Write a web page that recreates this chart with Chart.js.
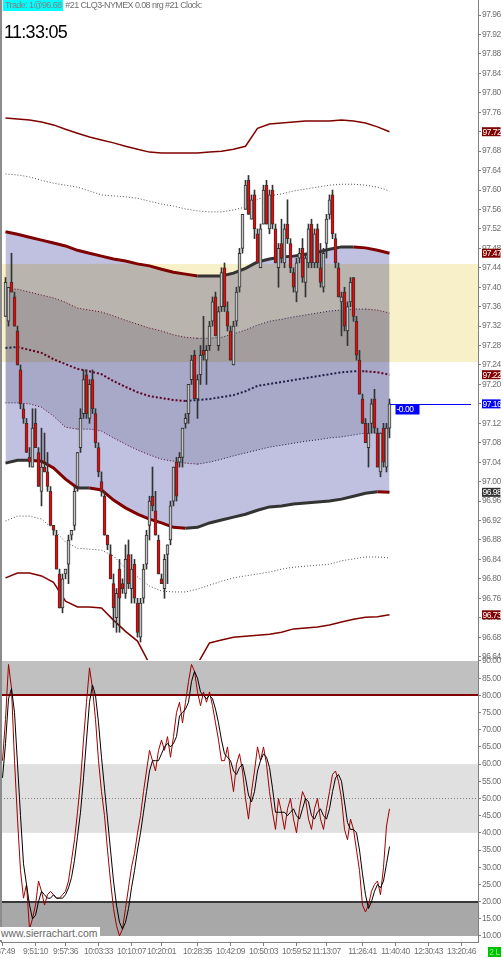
<!DOCTYPE html>
<html>
<head>
<meta charset="utf-8">
<title>CLQ3-NYMEX</title>
<script src="https://cdn.jsdelivr.net/npm/chart.js@4.4.1/dist/chart.umd.min.js"></script>
<style>
  html, body { margin: 0; padding: 0; background: #fff; }
  body { position: relative; width: 503px; height: 958px; overflow: hidden; }
  canvas { position: absolute; left: 0; }
  #price { top: 0; }
  #osc { top: 650px; }
  #edge { position: absolute; left: 0; top: 0; width: 2px; height: 942px; background: #8c8c8c; }
  #hdr { position: absolute; left: 3px; top: 0; height: 11px; white-space: nowrap; letter-spacing: -0.6px;
         font: 9px/11px 'Liberation Sans', Arial, sans-serif; color: #707070; }
  #hdr .trade { display: inline-block; background: #00ffff; padding: 0 2px 0 2px; color: #808080; }
  #clock { position: absolute; left: 4px; top: 23px; color: #000; letter-spacing: -0.7px;
           font: 18px/18px 'Liberation Sans', Arial, sans-serif; }
  #wm { position: absolute; left: 0; top: 927px; width: 100px; height: 13px; background: #fff; padding-left: 1px;
        box-sizing: border-box; font: 10.4px/13px 'Liberation Sans', Arial, sans-serif; color: #666; }
  #badge { position: absolute; left: 488px; top: 947px; width: 13px; height: 10px; background: #00c000;
           color: #80ff80; text-align: center; letter-spacing: -0.5px; font: 8.5px/10px 'Liberation Sans', sans-serif; }
</style>
</head>
<body>
<canvas id="price" width="503" height="660"></canvas>
<canvas id="osc" width="503" height="308"></canvas>
<div id="edge"></div>
<div id="hdr"><span class="trade">Trade: 1@96.68</span> #21 CLQ3-NYMEX 0.08 nrg #21 Clock:</div>
<div id="clock">11:33:05</div>
<div id="wm">www.sierrachart.com</div>
<div id="badge">2 L</div>
<script>
// bar slots on the x axis (bars sit in slots 1..129, the rest is empty space on the right)
const N_SLOTS = 159;
const FIRST_BAR = 1;

// candles, 21-tick bars
const OPEN = [97.34,97.33,97.41,97.38,97.31,97.23,97.15,97.12,97.05,97.03,97.12,97.06,96.98,97.03,97.02,96.98,96.91,96.89,96.81,96.74,
  96.81,96.83,96.89,96.91,96.99,97.07,97.14,97.22,97.13,97.21,97.14,97.07,97.00,96.97,96.89,96.85,96.79,96.72,96.82,96.79,
  96.77,96.85,96.78,96.83,96.75,96.68,96.76,96.83,96.91,96.97,96.94,96.88,96.80,96.78,96.85,96.88,96.96,97.04,97.04,97.05,
  97.12,97.14,97.21,97.26,97.17,97.22,97.27,97.25,97.28,97.33,97.38,97.28,97.36,97.44,97.35,97.31,97.24,97.33,97.40,97.48,
  97.56,97.62,97.54,97.59,97.51,97.44,97.53,97.61,97.52,97.60,97.52,97.44,97.49,97.45,97.53,97.49,97.43,97.39,97.46,97.48,
  97.41,97.45,97.53,97.45,97.52,97.44,97.40,97.49,97.55,97.59,97.50,97.44,97.37,97.39,97.31,97.37,97.42,97.33,97.25,97.17,
  97.12,97.07,97.12,97.17,97.10,97.02,97.11,97.03,97.11];
const HIGH = [97.42,97.40,97.47,97.39,97.32,97.24,97.16,97.13,97.07,97.15,97.15,97.07,97.11,97.10,97.06,96.99,96.91,96.90,96.82,96.81,
  96.82,96.89,96.90,96.99,97.06,97.15,97.23,97.23,97.21,97.23,97.15,97.08,97.02,96.98,96.89,96.87,96.81,96.78,96.84,96.80,
  96.87,96.88,96.85,96.84,96.76,96.76,96.83,96.90,96.97,97.03,96.98,96.89,96.81,96.85,96.87,96.96,97.03,97.05,97.06,97.11,
  97.14,97.20,97.26,97.27,97.22,97.28,97.34,97.28,97.33,97.38,97.39,97.36,97.44,97.45,97.37,97.32,97.33,97.40,97.48,97.55,
  97.62,97.63,97.59,97.60,97.52,97.53,97.61,97.62,97.60,97.61,97.53,97.49,97.54,97.53,97.58,97.50,97.44,97.46,97.48,97.50,
  97.47,97.53,97.54,97.52,97.53,97.49,97.48,97.55,97.59,97.60,97.51,97.45,97.39,97.40,97.37,97.42,97.42,97.34,97.27,97.18,
  97.13,97.12,97.17,97.19,97.11,97.10,97.12,97.12,97.17];
const LOW = [97.34,97.32,97.39,97.32,97.24,97.15,97.12,97.06,97.03,97.03,97.07,96.99,96.95,97.02,96.98,96.91,96.89,96.82,96.74,96.73,
  96.80,96.79,96.88,96.90,96.98,97.06,97.13,97.13,97.12,97.14,97.07,97.01,96.97,96.89,96.86,96.80,96.70,96.69,96.69,96.77,
  96.76,96.78,96.75,96.75,96.68,96.67,96.75,96.82,96.88,96.94,96.89,96.81,96.79,96.76,96.79,96.87,96.95,96.96,97.03,97.03,
  97.11,97.12,97.20,97.17,97.13,97.20,97.25,97.20,97.27,97.32,97.30,97.27,97.35,97.35,97.31,97.25,97.24,97.32,97.39,97.47,
  97.56,97.55,97.54,97.50,97.45,97.44,97.53,97.53,97.51,97.52,97.45,97.40,97.45,97.44,97.49,97.43,97.39,97.37,97.45,97.41,
  97.38,97.44,97.44,97.44,97.44,97.40,97.39,97.46,97.54,97.50,97.44,97.38,97.30,97.31,97.28,97.36,97.33,97.25,97.18,97.12,
  97.08,97.03,97.10,97.10,97.03,97.01,97.03,97.02,97.09];
const CLOSE = [97.41,97.40,97.39,97.32,97.24,97.16,97.13,97.06,97.04,97.11,97.07,96.99,97.03,97.02,96.99,96.91,96.90,96.82,96.74,96.80,
  96.82,96.88,96.90,96.98,97.06,97.13,97.21,97.14,97.20,97.15,97.08,97.02,96.98,96.89,96.87,96.80,96.74,96.77,96.76,96.78,
  96.84,96.79,96.82,96.76,96.69,96.75,96.82,96.89,96.96,96.95,96.89,96.81,96.79,96.84,96.87,96.95,97.03,96.97,97.05,97.11,
  97.13,97.20,97.25,97.17,97.21,97.26,97.26,97.27,97.32,97.37,97.30,97.35,97.43,97.36,97.32,97.25,97.32,97.39,97.47,97.55,
  97.61,97.55,97.58,97.52,97.45,97.52,97.60,97.53,97.59,97.53,97.45,97.48,97.46,97.52,97.50,97.44,97.40,97.45,97.47,97.42,
  97.46,97.52,97.45,97.51,97.45,97.41,97.47,97.54,97.58,97.51,97.45,97.38,97.38,97.32,97.36,97.41,97.34,97.26,97.18,97.12,
  97.08,97.10,97.16,97.11,97.03,97.10,97.04,97.11,97.16];

// band study, read at every 4th bar
const BAND_SLOTS = [1,5,9,13,17,21,25,29,33,37,41,45,49,53,57,61,65,69,73,77,81,85,89,93,97,101,105,109,113,117,121,125,129];
const BAND_TOP_OUTER = [97.748,97.746,97.744,97.740,97.734,97.725,97.717,97.709,97.703,97.697,97.690,97.684,97.678,97.676,97.676,97.676,
  97.676,97.678,97.680,97.684,97.690,97.727,97.736,97.738,97.740,97.742,97.742,97.742,97.744,97.742,97.738,97.730,97.72];
const BAND_TOP_DOTTED = [97.633,97.631,97.627,97.620,97.614,97.610,97.606,97.598,97.590,97.588,97.586,97.583,97.577,97.571,97.567,97.561,
  97.557,97.555,97.555,97.559,97.565,97.581,97.588,97.592,97.598,97.602,97.606,97.610,97.612,97.612,97.610,97.606,97.598];
const BAND_TOP = [97.514,97.509,97.503,97.497,97.491,97.485,97.476,97.470,97.464,97.458,97.454,97.448,97.444,97.437,97.431,97.427,
  97.423,97.423,97.423,97.429,97.439,97.452,97.458,97.462,97.464,97.468,97.472,97.478,97.483,97.483,97.481,97.476,97.47];
const BAND_TOP_INNER = [97.396,97.396,97.390,97.384,97.378,97.369,97.357,97.353,97.349,97.341,97.332,97.324,97.316,97.310,97.302,97.297,
  97.295,97.295,97.297,97.304,97.312,97.322,97.330,97.334,97.339,97.343,97.347,97.351,97.353,97.355,97.355,97.353,97.347];
const BAND_MID = [97.275,97.277,97.271,97.265,97.252,97.242,97.232,97.227,97.221,97.207,97.195,97.184,97.176,97.172,97.168,97.166,
  97.168,97.170,97.174,97.178,97.186,97.197,97.201,97.205,97.209,97.213,97.217,97.221,97.225,97.227,97.227,97.225,97.22];
const BAND_BOT_INNER = [97.162,97.162,97.160,97.153,97.135,97.112,97.108,97.108,97.104,97.090,97.077,97.065,97.055,97.046,97.042,97.038,
  97.036,97.040,97.046,97.053,97.059,97.065,97.071,97.075,97.079,97.083,97.086,97.090,97.092,97.096,97.100,97.100,97.098];
const BAND_BOT = [97.038,97.044,97.044,97.042,97.028,97.005,96.987,96.987,96.983,96.962,96.946,96.933,96.923,96.915,96.906,96.904,
  96.906,96.915,96.921,96.927,96.933,96.941,96.948,96.950,96.954,96.956,96.958,96.960,96.964,96.970,96.976,96.979,96.978];
const BAND_BOT_DOTTED = [96.919,96.929,96.929,96.923,96.902,96.876,96.863,96.861,96.859,96.847,96.822,96.804,96.785,96.775,96.773,96.773,
  96.779,96.787,96.795,96.802,96.806,96.810,96.814,96.820,96.824,96.826,96.828,96.830,96.837,96.841,96.845,96.845,96.843];
const BAND_BOT_OUTER = [96.802,96.812,96.812,96.806,96.793,96.754,96.742,96.742,96.740,96.715,96.692,96.672,96.625,96.610,96.605,96.608,
  96.625,96.668,96.674,96.680,96.682,96.684,96.686,96.690,96.697,96.699,96.701,96.705,96.711,96.717,96.721,96.722,96.726];

// shaded zone on the price pane
const ZONE_HIGH = 97.448;
const ZONE_LOW = 97.246;

// stochastic, slots 0..129
const OSC_K = [61,73,89,82,61,44,29,21,25,12,15,19,26,23,19,22,23,22,21,21,
  22,23,26,32,38,46,55,67,78,88,82,73,61,52,45,35,26,18,13,10,
  12,18,24,30,34,40,45,52,58,64,61,58,64,67,64,68,62,68,75,78,
  72,78,84,89,87,81,77,81,78,81,77,72,67,61,61,65,58,52,60,63,
  58,50,44,52,58,65,61,65,60,52,46,41,50,46,41,47,50,44,40,47,
  52,50,44,41,47,50,44,41,47,52,57,58,55,50,41,38,44,41,35,29,
  19,17,19,23,25,26,22,30,42,47];
const OSC_D = [56,66,79,82,75,60,45,31,25,19,15,16,20,23,22,21,21,22,21,21,
  21,22,24,27,32,39,46,56,67,78,83,80,72,62,53,44,35,26,19,14,
  12,14,18,24,29,35,40,46,52,58,61,61,61,63,65,66,65,66,68,74,
  75,76,78,84,87,85,81,80,79,80,79,76,72,67,63,62,61,58,57,59,
  60,56,51,49,52,58,61,63,62,59,53,46,46,46,46,45,46,47,45,44,
  47,50,49,45,44,46,47,45,44,47,52,56,57,55,49,43,41,41,40,35,
  28,22,18,20,23,25,24,26,31,36];

const PRICE_MIN = 96.633, PRICE_MAX = 97.991;
const PRICE_TICKS = [96.64,96.68,96.72,96.76,96.80,96.84,96.88,96.92,96.96,97.00,97.04,97.08,97.12,97.16,97.20,97.24,97.28,
  97.32,97.36,97.40,97.44,97.48,97.52,97.56,97.60,97.64,97.68,97.72,97.76,97.80,97.84,97.88,97.92,97.96];
const OSC_MIN = 8.25, OSC_MAX = 90.29;
const OSC_TICKS = [10,15,20,25,30,35,40,45,50,55,60,65,70,75,80,85,90];
const OSC_ZONES = [
  { from: 80, to: 90, color: '#c0c0c0' },
  { from: 40, to: 60, color: '#e0e0e0' },
  { from: 10, to: 20, color: '#a8a8a8' }
];
const OSC_LEVELS = [
  { value: 50, color: '#808080', width: 1, dash: [1, 2] },
  { value: 80, color: '#800000', width: 2 },
  { value: 20, color: '#383838', width: 2 }
];
const TIME_SLOTS = [0, 11, 21, 32, 43, 53, 65, 76, 87, 98, 108, 120, 131, 142, 153];
const TIME_LABELS = ['9:37:49','9:51:10','9:57:36','10:03:33','10:10:07','10:20:01','10:28:35','10:42:09',
  '10:50:03','10:59:52','11:13:07','11:26:41','11:40:40','12:30:43','13:20:46'];

const FONT = "'Liberation Sans', Arial, sans-serif";
const TIGHT = '-0.5px';
const DARK_RED = '#800000';
const AXIS_GRAY = '#808080';
const LABEL_GRAY = '#707070';
const AXIS_WIDTH = 25;   // 159 slots x 3px = 477px of plot

Chart.defaults.font.family = FONT;
Chart.defaults.font.size = 8.5;

// squeeze the axis text a little, Sierra uses a narrow font
Chart.register({
  id: 'tightText',
  beforeLayout(chart) { chart.ctx.letterSpacing = TIGHT; },
  beforeDraw(chart) { chart.ctx.letterSpacing = TIGHT; }
});

const slots = Array.from({ length: N_SLOTS }, (_, k) => k);

// candles as floating bars
const bodies = new Array(N_SLOTS).fill(null);
const wicks = new Array(N_SLOTS).fill(null);
OPEN.forEach((o, i) => {
  bodies[FIRST_BAR + i] = [o, CLOSE[i]];
  wicks[FIRST_BAR + i] = [LOW[i], HIGH[i]];
});

function bandPoints(values) {
  return BAND_SLOTS.map((s, i) => ({ x: s, y: values[i] }));
}

// Sierra colours the band by slope: falling = red, rising = dark
function bySlope(down, up) {
  return ctx => (ctx.p1.parsed.y < ctx.p0.parsed.y ? down : up);
}

function bandLine(values, opts) {
  return Object.assign({
    type: 'line',
    data: bandPoints(values),
    pointRadius: 0,
    tension: 0,
    fill: false,
    order: 2
  }, opts);
}

function rightAxisFit(scale) {
  scale.width = AXIS_WIDTH;
  scale.paddingTop = 0;
  scale.paddingBottom = 0;
}

// yellow zone, drawn multiplied over the band fills
const zonePlugin = {
  id: 'zone',
  beforeDatasetsDraw(chart) {
    const { ctx, chartArea: a, scales: { y } } = chart;
    const top = y.getPixelForValue(ZONE_HIGH);
    const bot = y.getPixelForValue(ZONE_LOW);
    ctx.save();
    ctx.globalCompositeOperation = 'multiply';
    ctx.fillStyle = '#f7f0c8';
    ctx.fillRect(a.left, top, a.right - a.left, bot - top);
    ctx.restore();
  }
};

// value boxes on the price scale + last price line
const markerPlugin = {
  id: 'markers',
  afterDraw(chart) {
    const { ctx, chartArea: a, scales: { x, y } } = chart;
    const lastClose = CLOSE[CLOSE.length - 1];
    const boxes = [
      { v: BAND_TOP_OUTER[BAND_TOP_OUTER.length - 1], bg: DARK_RED },
      { v: BAND_TOP[BAND_TOP.length - 1], bg: DARK_RED },
      { v: BAND_MID[BAND_MID.length - 1], bg: DARK_RED },
      { v: lastClose, bg: '#0000ff' },
      { v: BAND_BOT[BAND_BOT.length - 1], bg: '#303030' },
      { v: BAND_BOT_OUTER[BAND_BOT_OUTER.length - 1], bg: DARK_RED }
    ];
    ctx.save();
    ctx.letterSpacing = TIGHT;
    ctx.font = '8.5px ' + FONT;
    ctx.textBaseline = 'middle';
    ctx.textAlign = 'left';

    const py = Math.round(y.getPixelForValue(lastClose)) + 0.5;
    const bx = x.getPixelForValue(FIRST_BAR + CLOSE.length - 1);
    ctx.strokeStyle = '#0000ff';
    ctx.lineWidth = 1;
    ctx.beginPath();
    ctx.moveTo(bx + 1, py);
    ctx.lineTo(a.right - 7, py);
    ctx.stroke();
    ctx.fillStyle = '#0000ff';
    ctx.fillRect(bx + 6, py, 24, 10);
    ctx.fillStyle = '#fff';
    ctx.fillText('-0.00', bx + 7, py + 5.5);

    boxes.forEach(b => {
      const yy = y.getPixelForValue(b.v);
      ctx.fillStyle = b.bg;
      ctx.fillRect(a.right + 4, yy - 4.5, 18.5, 9);
      ctx.fillStyle = '#fff';
      ctx.fillText(b.v.toFixed(2), a.right + 4.5, yy + 0.5);
    });
    ctx.restore();
  }
};

const BLUE_FILL = '#c0c0e0';
const INNER_FILL = '#a8a8c8';
const SLOPE_RED = '#600020';
const SLOPE_NAVY = '#202048';

new Chart(document.getElementById('price'), {
  type: 'bar',
  data: {
    labels: slots,
    datasets: [
      {
        data: bodies,
        grouped: false,
        barThickness: 3,
        borderWidth: 1,
        borderSkipped: false,
        borderColor: '#333333',
        backgroundColor: ctx => {
          const i = ctx.dataIndex - FIRST_BAR;
          return CLOSE[i] >= OPEN[i] ? '#c4c4c4' : '#ff0000';
        },
        order: 0
      },
      {
        data: wicks,
        grouped: false,
        barThickness: 1,
        borderWidth: 0,
        backgroundColor: '#333333',
        order: 1
      },
      // plain fill carriers (no segment styling, so the fills have no seams)
      bandLine(BAND_TOP, { borderWidth: 0, fill: 3, backgroundColor: BLUE_FILL, order: 5 }),
      bandLine(BAND_BOT, { borderWidth: 0, order: 5 }),
      bandLine(BAND_TOP_INNER, { borderWidth: 0, fill: 5, backgroundColor: INNER_FILL, order: 4 }),
      bandLine(BAND_BOT_INNER, { borderWidth: 0, order: 4 }),
      // visible lines
      bandLine(BAND_TOP_OUTER, { borderColor: DARK_RED, borderWidth: 1.5 }),
      bandLine(BAND_TOP_DOTTED, { borderColor: '#505050', borderWidth: 1, borderDash: [1, 2] }),
      bandLine(BAND_TOP, { borderWidth: 3, borderColor: DARK_RED, segment: { borderColor: bySlope(DARK_RED, '#333333') } }),
      bandLine(BAND_TOP_INNER, { borderWidth: 1, borderDash: [1, 2], borderColor: SLOPE_RED,
        segment: { borderColor: bySlope(SLOPE_RED, SLOPE_NAVY) } }),
      bandLine(BAND_MID, { borderWidth: 2, borderDash: [2, 2], borderColor: SLOPE_RED,
        segment: { borderColor: bySlope(SLOPE_RED, SLOPE_NAVY) } }),
      bandLine(BAND_BOT_INNER, { borderWidth: 1, borderDash: [1, 2], borderColor: SLOPE_RED,
        segment: { borderColor: bySlope(SLOPE_RED, SLOPE_NAVY) } }),
      bandLine(BAND_BOT, { borderWidth: 3, borderColor: DARK_RED, segment: { borderColor: bySlope(DARK_RED, '#333333') } }),
      bandLine(BAND_BOT_DOTTED, { borderColor: '#505050', borderWidth: 1, borderDash: [1, 2] }),
      bandLine(BAND_BOT_OUTER, { borderColor: DARK_RED, borderWidth: 1.5 })
    ]
  },
  options: {
    responsive: false,
    animation: false,
    events: [],
    layout: { padding: { left: 1, right: 0, top: 0, bottom: 0 } },
    plugins: {
      legend: { display: false },
      tooltip: { enabled: false },
      filler: { drawTime: 'beforeDatasetsDraw' }
    },
    scales: {
      x: { type: 'category', display: false, offset: true, grid: { display: false } },
      y: {
        position: 'right',
        min: PRICE_MIN,
        max: PRICE_MAX,
        afterFit: rightAxisFit,
        afterBuildTicks: s => { s.ticks = PRICE_TICKS.map(v => ({ value: v })); },
        ticks: { callback: v => v.toFixed(2), color: LABEL_GRAY, padding: 1, autoSkip: false },
        grid: { drawOnChartArea: false, tickLength: 3, color: AXIS_GRAY },
        border: { display: true, color: AXIS_GRAY }
      }
    }
  },
  plugins: [zonePlugin, markerPlugin]
});

const oscBands = {
  id: 'oscBands',
  beforeDatasetsDraw(chart) {
    const { ctx, chartArea: a, scales: { y } } = chart;
    ctx.save();
    OSC_ZONES.forEach(z => {
      const t = y.getPixelForValue(z.to), b = y.getPixelForValue(z.from);
      ctx.fillStyle = z.color;
      ctx.fillRect(a.left, t, a.right - a.left, b - t);
    });
    OSC_LEVELS.forEach(l => {
      const py = Math.round(y.getPixelForValue(l.value));
      ctx.strokeStyle = l.color;
      ctx.lineWidth = l.width;
      ctx.setLineDash(l.dash || []);
      ctx.beginPath();
      ctx.moveTo(a.left, l.width % 2 ? py + 0.5 : py);
      ctx.lineTo(a.right, l.width % 2 ? py + 0.5 : py);
      ctx.stroke();
    });
    ctx.restore();
  }
};

new Chart(document.getElementById('osc'), {
  type: 'line',
  data: {
    labels: slots,
    datasets: [
      { data: OSC_D, borderColor: '#000000', borderWidth: 1, pointRadius: 0, tension: 0 },
      { data: OSC_K, borderColor: '#a00000', borderWidth: 1, pointRadius: 0, tension: 0 }
    ]
  },
  options: {
    responsive: false,
    animation: false,
    events: [],
    layout: { padding: { left: 1, right: 0, top: 10, bottom: 0 } },
    plugins: { legend: { display: false }, tooltip: { enabled: false } },
    scales: {
      x: {
        type: 'category',
        offset: true,
        afterFit: s => { s.height = 16; s.paddingLeft = 0; s.paddingRight = 0; },
        ticks: {
          autoSkip: false,
          maxRotation: 0,
          padding: 1,
          color: LABEL_GRAY,
          callback: (v, i) => {
            const j = TIME_SLOTS.indexOf(i);
            return j >= 0 ? TIME_LABELS[j] : '';
          }
        },
        grid: {
          drawOnChartArea: false,
          offset: false,
          tickLength: 4,
          color: ctx => (TIME_SLOTS.includes(ctx.index) ? AXIS_GRAY : 'rgba(0,0,0,0)')
        },
        border: { display: true, color: AXIS_GRAY }
      },
      y: {
        position: 'right',
        min: OSC_MIN,
        max: OSC_MAX,
        afterFit: rightAxisFit,
        afterBuildTicks: s => { s.ticks = OSC_TICKS.map(v => ({ value: v })); },
        ticks: { callback: v => v.toFixed(2), color: LABEL_GRAY, padding: 1, autoSkip: false },
        grid: { drawOnChartArea: false, tickLength: 3, color: AXIS_GRAY },
        border: { display: true, color: AXIS_GRAY }
      }
    }
  },
  plugins: [oscBands]
});
</script>
</body>
</html>
